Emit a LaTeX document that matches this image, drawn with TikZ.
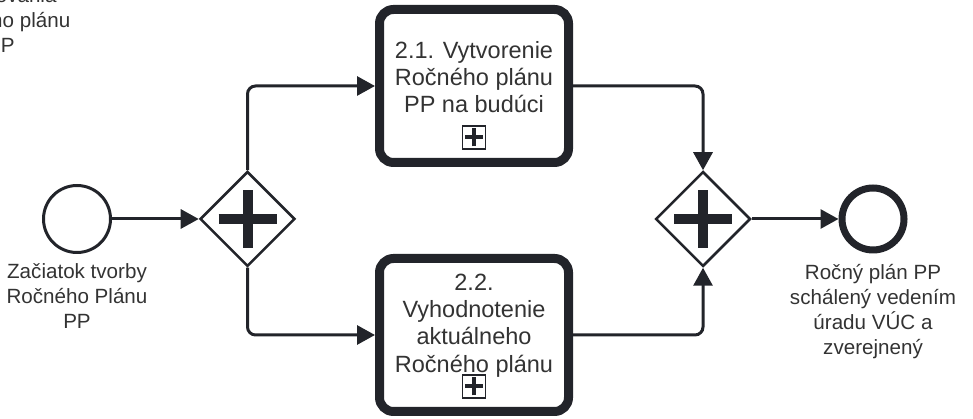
\documentclass[tikz,border=0pt]{standalone}
\usepackage{fontspec}
\setmainfont{Liberation Sans}
\usetikzlibrary{shapes.geometric}
\usetikzlibrary{arrows.meta}
\usetikzlibrary{positioning}

\definecolor{bpmnline}{RGB}{34,36,42}
\definecolor{bpmntext}{RGB}{51,51,51}

\begin{document}
\begin{tikzpicture}[x=1pt,y=1pt,
  event/.style={circle,draw=bpmnline,line width=3pt,minimum size=67pt,inner sep=0pt},
  endevent/.style={event,line width=7pt,minimum size=62pt},
  gateway/.style={diamond,draw=bpmnline,line width=2.5pt,minimum size=95pt,inner sep=0pt,fill=white},
  subproc/.style={rectangle,rounded corners=14pt,draw=bpmnline,line width=9pt,minimum width=189pt,minimum height=153pt,fill=white},
  marker/.style={rectangle,draw=bpmnline,line width=1.5pt,minimum size=23pt,inner sep=0pt},
  tasktext/.style={align=center,text=bpmntext,font=\fontsize{23.5}{27.2}\selectfont,inner sep=0pt},
  lbl/.style={align=center,text=bpmntext,font=\fontsize{20.6}{25}\selectfont,inner sep=0pt,outer sep=0pt,anchor=north},
  flow/.style={draw=bpmnline,line width=3pt,rounded corners=8pt,-{Triangle[length=18pt,width=19pt]}}]

\useasboundingbox (0,0) rectangle (973,419);

\node[lbl] (prevlbl) at (1,431) {spracovania\\Ročného plánu\\PP};

\node[event] (start) at (77,200) {};
\node[gateway] (fork) at (247.5,200) {};
\node[subproc] (plan) at (474,333) {};
\node[subproc] (eval) at (474,84) {};
\node[gateway] (join) at (703,200) {};
\node[endevent] (end) at (873,200) {};

\node[lbl,below=10pt of start] (startlbl) {Začiatok tvorby\\Ročného Plánu\\PP};
\node[lbl,below=11pt of end] (endlbl) {Ročný plán PP\\schálený vedením\\úradu VÚC a\\zverejnený};

\node[tasktext] (plantext) at ([yshift=9pt]plan.center) {2.1. Vytvorenie\\Ročného plánu\\PP na budúci};
\node[tasktext] (evaltext) at ([yshift=9.5pt]eval.center) {2.2.\\Vyhodnotenie\\aktuálneho\\Ročného plánu};

\foreach \g in {fork,join}{
  \draw[bpmnline,line width=10pt] ([xshift=-29pt]\g.center) -- ([xshift=29pt]\g.center);
  \draw[bpmnline,line width=10pt] ([yshift=-29pt]\g.center) -- ([yshift=29pt]\g.center);
}
\foreach \t in {plan,eval}{
  \node[marker] (\t-m) at ([yshift=29.5pt]\t.south) {};
  \draw[bpmnline,line width=4pt] ([xshift=-9pt]\t-m.center) -- ([xshift=9pt]\t-m.center);
  \draw[bpmnline,line width=4pt] ([yshift=-9pt]\t-m.center) -- ([yshift=9pt]\t-m.center);
}

\draw[flow] (start) -- (fork);
\draw[flow] (fork.north) |- (plan.west);
\draw[flow] (fork.south) |- (eval.west);
\draw[flow] (plan.east) -| (join.north);
\draw[flow] (eval.east) -| (join.south);
\draw[flow] (join) -- (end);
\end{tikzpicture}
\end{document}
